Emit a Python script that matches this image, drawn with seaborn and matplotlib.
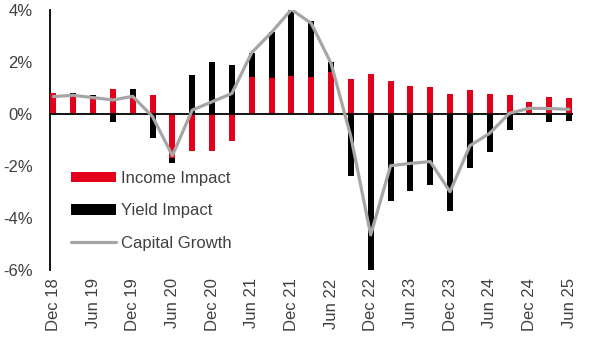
import numpy as np
import pandas as pd
import matplotlib
matplotlib.use("Agg")
import matplotlib.pyplot as plt
import seaborn as sns
from matplotlib.patches import Patch
from matplotlib.lines import Line2D

quarters = ["Dec 18", "Mar 19", "Jun 19", "Sep 19", "Dec 19", "Mar 20", "Jun 20", "Sep 20",
            "Dec 20", "Mar 21", "Jun 21", "Sep 21", "Dec 21", "Mar 22", "Jun 22", "Sep 22",
            "Dec 22", "Mar 23", "Jun 23", "Sep 23", "Dec 23", "Mar 24", "Jun 24", "Sep 24",
            "Dec 24", "Mar 25", "Jun 25"]
income_impact = [0.79, 0.76, 0.69, 0.95, 0.67, 0.72, -1.71, -1.41, -1.41, -1.03, 1.41, 1.38,
                 1.46, 1.42, 1.63, 1.35, 1.53, 1.27, 1.06, 1.04, 0.78, 0.92, 0.76, 0.73,
                 0.47, 0.65, 0.62]
yield_impact = [0.0, 0.03, 0.05, -0.29, 0.28, -0.94, -0.19, 1.49, 2.01, 1.88, 0.95, 1.76,
                2.54, 2.16, 0.36, -2.38, -6.09, -3.33, -2.96, -2.73, -3.73, -2.06, -1.47, -0.62,
                0.0, -0.32, -0.27]
capital_growth = [0.67, 0.72, 0.63, 0.54, 0.68, -0.10, -1.60, 0.15, 0.47, 0.79, 2.36, 3.14,
                  4.02, 3.49, 1.95, -0.87, -4.65, -1.99, -1.90, -1.83, -2.99, -1.22, -0.74, 0.03,
                  0.22, 0.21, 0.18]
tick_labels = ["Dec 18", "Jun 19", "Dec 19", "Jun 20", "Dec 20", "Jun 21", "Dec 21",
               "Jun 22", "Dec 22", "Jun 23", "Dec 23", "Jun 24", "Dec 24", "Jun 25"]

RED = "#E2001A"
BLACK = "#000000"
GREY = "#A6A6A6"
TXT = "#404040"

inc = np.array(income_impact)
yld = np.array(yield_impact)
# yield bars stack on the income bars when both share a sign
yield_top = np.where(np.sign(inc) == np.sign(yld), inc + yld, yld)

df = pd.DataFrame({"q": quarters, "income": inc, "yield_top": yield_top,
                   "capital": capital_growth, "pos": np.arange(len(quarters))})

sns.set_style("white")
plt.rcParams["font.family"] = ["Liberation Sans", "DejaVu Sans"]

fig = plt.figure(figsize=(6, 3.44), dpi=100)
ax = fig.add_axes([50/600, 1-270/344, 523/600, 260/344])

sns.barplot(data=df, x="q", y="yield_top", order=quarters, color=BLACK, width=0.3,
            saturation=1, ax=ax, zorder=2, edgecolor="none")
sns.barplot(data=df, x="q", y="income", order=quarters, color=RED, width=0.3,
            saturation=1, ax=ax, zorder=3, edgecolor="none")
sns.lineplot(data=df, x="pos", y="capital", color=GREY, linewidth=2.3, ax=ax, zorder=4)

ax.axhline(0, color=BLACK, linewidth=1.3, zorder=3.5)

ax.set_ylim(-6, 4)
ax.set_xlim(-0.17, len(quarters) - 1 + 0.2)
ax.set_yticks([-6, -4, -2, 0, 2, 4])
ax.set_yticklabels([f"{v}%" for v in [-6, -4, -2, 0, 2, 4]])
ax.set_xticks(np.arange(0, len(quarters), 2))
ax.set_xticklabels(tick_labels, rotation=90)
ax.set_xlabel("")
ax.set_ylabel("")
ax.tick_params(axis="both", length=0, labelsize=12, colors=TXT)
ax.tick_params(axis="y", pad=12.5)
ax.tick_params(axis="x", pad=6)

for s in ["top", "right", "bottom"]:
    ax.spines[s].set_visible(False)
ax.spines["left"].set_color(BLACK)
ax.spines["left"].set_linewidth(1.3)

handles = [Patch(facecolor=RED, edgecolor="none"),
           Patch(facecolor=BLACK, edgecolor="none"),
           Line2D([0], [0], color=GREY, linewidth=2.3)]
leg = fig.legend(handles, ["Income Impact", "Yield Impact", "Capital Growth"],
                 loc="center left", bbox_to_anchor=(63/600, 1-211/344),
                 frameon=False, borderpad=0, handlelength=2.7, handleheight=0.6,
                 handletextpad=0.3, labelspacing=1.05, fontsize=12)
for t in leg.get_texts():
    t.set_color(TXT)

fig.savefig("out.png", dpi=100)
